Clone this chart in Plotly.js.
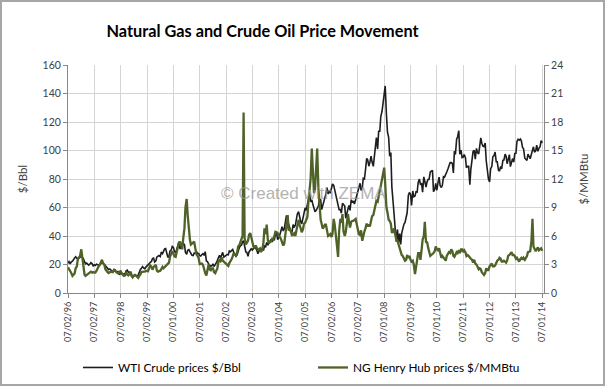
<!DOCTYPE html>
<html>
<head>
<meta charset="utf-8">
<script src="https://cdn.plot.ly/plotly-3.0.1.min.js"></script>
<style>
  html, body { margin: 0; padding: 0; background: #fff; }
  #wrap { position: relative; width: 605px; height: 386px; }
  #chart { width: 605px; height: 386px; }
  #frame { position: absolute; left: 0; top: 0; width: 605px; height: 386px; box-sizing: border-box; border: 2px solid #a6a6a6; pointer-events: none; }
</style>
</head>
<body>
<div id="wrap"><div id="chart"></div><div id="frame"></div></div>
<script>
// Semi-monthly readings (1st and 15th of each month), Jul 1996 .. Jul 2014
const wti = [
  20.9, 22.0, 20.5, 21.9, 22.3, 24.0, 24.6, 25.4, 24.0, 23.5, 24.5, 25.5,
  25.9, 25.0, 24.0, 22.0, 20.5, 21.0, 20.4, 19.6, 20.3, 21.3, 20.5, 19.0, 19.8, 19.3, 20.2, 19.8, 19.5, 19.9, 21.2, 21.5, 20.9, 20.2, 19.0, 18.3,
  17.6, 16.4, 16.9, 15.7, 15.4, 14.5, 16.2, 15.2, 15.2, 14.7, 14.9, 12.8, 14.2, 14.0, 13.5, 13.0, 13.8, 15.5, 16.0, 14.5, 14.6, 12.6, 11.6, 11.0,
  12.1, 12.6, 12.3, 11.8, 12.6, 15.0, 16.5, 17.4, 18.5, 17.6, 17.0, 18.2, 19.3, 20.3, 20.6, 21.5, 22.1, 24.2, 24.5, 21.7, 22.5, 25.3, 26.2, 26.3,
  25.6, 28.7, 27.6, 29.8, 31.0, 31.2, 26.6, 25.0, 25.8, 29.5, 30.1, 32.7, 32.0, 29.3, 28.1, 31.5, 33.4, 35.9, 30.8, 33.8, 33.0, 34.8, 34.0, 28.5,
  27.2, 30.0, 30.5, 29.0, 27.5, 26.5, 26.3, 28.0, 28.0, 29.2, 27.9, 27.8, 26.3, 26.0, 27.0, 27.6, 26.5, 29.0, 22.5, 22.0, 20.5, 18.0, 19.2, 19.0,
  20.5, 18.6, 19.9, 21.0, 22.5, 24.5, 26.5, 24.5, 27.3, 28.5, 25.2, 26.0, 26.8, 27.0, 26.8, 29.5, 29.0, 29.6, 30.5, 28.5, 27.0, 25.7, 26.8, 29.5,
  31.9, 33.0, 33.7, 36.0, 36.7, 33.0, 28.8, 28.5, 25.8, 28.8, 29.7, 31.0, 30.2, 31.7, 32.3, 31.5, 30.0, 27.6, 29.2, 31.0, 29.0, 31.8, 29.8, 33.0,
  32.5, 35.5, 33.5, 35.5, 36.5, 37.4, 35.8, 37.8, 37.5, 41.0, 42.0, 37.5, 39.0, 40.8, 43.8, 46.5, 43.5, 45.0, 50.0, 54.5, 50.5, 47.0, 45.5, 43.0,
  43.0, 48.0, 46.5, 47.5, 51.5, 55.5, 57.0, 52.0, 50.0, 48.5, 53.5, 56.5, 59.8, 58.0, 61.5, 66.0, 69.5, 64.0, 65.5, 62.5, 60.0, 57.0, 58.0, 59.5,
  61.0, 66.0, 65.5, 58.5, 61.0, 63.0, 66.5, 69.5, 74.0, 69.5, 72.0, 70.0, 73.5, 76.5, 75.5, 72.0, 69.0, 63.5, 62.0, 58.5, 58.5, 56.0, 63.0, 62.0,
  61.0, 52.5, 57.5, 59.0, 61.5, 58.0, 65.5, 63.5, 64.5, 62.5, 65.5, 68.0, 71.0, 74.0, 77.0, 72.0, 74.0, 80.5, 80.0, 86.0, 94.5, 93.5, 89.0, 91.5,
  96.0, 91.9, 88.9, 95.5, 102.5, 109.0, 101.0, 113.5, 113.5, 124.0, 127.5, 134.0, 141.0, 145.3, 125.0, 113.0, 109.0, 96.0, 98.5, 74.5, 64.0, 56.0, 46.0, 36.0,
  44.6, 35.4, 41.7, 34.0, 42.0, 46.3, 48.4, 49.4, 53.2, 56.3, 68.6, 70.5, 69.3, 61.5, 71.6, 67.5, 68.0, 71.0, 70.8, 77.6, 79.9, 76.4, 77.0, 70.7,
  81.5, 78.0, 74.4, 78.0, 79.7, 79.8, 84.9, 85.5, 86.1, 71.1, 72.6, 77.0, 72.1, 77.0, 81.3, 75.4, 74.0, 75.6, 81.6, 81.3, 82.9, 84.9, 87.0, 88.6,
  91.5, 91.5, 90.9, 84.3, 99.6, 97.2, 107.9, 109.7, 113.9, 97.4, 100.3, 95.0, 95.4, 97.2, 94.9, 87.9, 88.9, 88.9, 76.0, 86.8, 92.2, 99.4, 100.2, 93.9,
  101.5, 98.7, 97.6, 102.3, 108.8, 105.1, 103.0, 102.8, 105.3, 93.0, 83.2, 80.0, 78.0, 87.1, 88.9, 95.6, 96.5, 98.9, 92.1, 92.1, 86.2, 85.5, 88.9, 87.1,
  93.1, 93.3, 97.5, 95.9, 90.7, 93.5, 97.1, 88.7, 91.0, 94.3, 91.9, 97.9, 98.0, 106.3, 107.9, 107.3, 108.0, 106.6, 102.0, 101.2, 94.6, 93.8, 93.0, 97.5,
  95.4, 94.2, 97.5, 100.3, 102.6, 98.9, 99.7, 103.8, 99.4, 101.5, 102.7, 106.9, 105.3
];
const ng = [
  2.70, 2.55, 2.25, 2.10, 1.80, 1.95, 2.05, 2.60, 2.80, 3.60, 3.85, 3.90,
  4.60, 3.70, 2.60, 1.95, 1.80, 1.90, 1.95, 2.05, 2.15, 2.25, 2.15, 2.20, 2.15, 2.15, 2.35, 2.60, 2.85, 2.95, 3.20, 3.50, 3.10, 3.00, 2.50, 2.30,
  2.20, 2.10, 2.15, 2.25, 2.20, 2.25, 2.45, 2.40, 2.20, 2.10, 2.05, 2.25, 2.30, 2.05, 1.90, 1.80, 1.85, 2.10, 1.95, 1.85, 2.00, 2.25, 1.85, 1.65,
  1.85, 1.90, 1.80, 1.70, 1.60, 1.80, 1.95, 2.20, 2.25, 2.25, 2.25, 2.30, 2.35, 2.30, 2.65, 2.90, 2.75, 2.45, 2.75, 2.85, 2.95, 2.35, 2.25, 2.30,
  2.35, 2.50, 2.75, 2.60, 2.70, 2.85, 2.95, 3.05, 3.20, 3.80, 4.30, 4.40, 4.15, 3.85, 3.80, 4.50, 4.85, 5.25, 5.40, 5.05, 4.60, 5.80, 6.80, 9.00,
  9.90, 8.20, 6.20, 5.60, 5.10, 5.20, 5.30, 5.40, 4.70, 4.10, 3.90, 3.70, 3.05, 3.10, 3.10, 2.95, 2.30, 2.10, 1.85, 2.60, 3.00, 2.50, 2.40, 2.60,
  2.60, 2.20, 2.10, 2.35, 2.55, 3.20, 3.45, 3.35, 3.75, 3.40, 3.30, 3.20, 3.05, 2.95, 2.85, 3.15, 3.35, 3.55, 3.85, 4.20, 4.05, 3.95, 4.25, 4.90,
  5.05, 5.30, 5.60, 6.00, 19.0, 5.80, 5.10, 5.25, 5.50, 6.10, 6.30, 5.90, 5.20, 4.90, 4.80, 5.00, 4.75, 4.60, 4.60, 4.70, 4.40, 4.50, 5.30, 6.80,
  6.20, 7.20, 5.50, 5.30, 5.35, 5.45, 5.70, 5.65, 6.00, 6.45, 6.40, 6.30, 6.00, 5.90, 5.65, 5.30, 5.00, 5.20, 6.20, 7.00, 8.20, 6.60, 6.70, 6.50,
  6.00, 6.20, 6.30, 6.00, 6.60, 7.20, 7.70, 7.20, 6.80, 6.40, 6.70, 7.30, 7.40, 7.60, 8.00, 9.50, 11.50, 12.00, 15.20, 13.00, 10.50, 11.00, 13.00, 15.20,
  11.00, 8.80, 7.70, 7.30, 6.80, 6.90, 7.20, 7.20, 6.50, 6.00, 6.10, 6.20, 5.90, 6.20, 7.80, 7.20, 6.00, 4.60, 3.80, 6.50, 7.80, 7.40, 8.30, 6.50,
  6.00, 6.40, 7.50, 8.30, 7.50, 6.90, 7.50, 7.60, 7.60, 7.70, 7.80, 7.30, 6.70, 6.20, 6.10, 6.60, 5.50, 6.20, 6.50, 6.80, 7.30, 7.00, 7.20, 7.00,
  7.60, 8.10, 8.20, 8.60, 9.30, 9.70, 9.60, 10.40, 10.80, 11.30, 12.00, 12.70, 13.20, 11.50, 9.00, 8.50, 7.70, 7.60, 7.30, 6.40, 6.40, 6.80, 6.00, 5.60,
  5.50, 5.10, 4.80, 4.40, 4.00, 3.90, 3.60, 3.40, 3.50, 4.00, 3.70, 3.90, 3.50, 3.30, 3.40, 3.00, 2.00, 2.90, 3.80, 4.20, 4.20, 3.50, 4.50, 5.60,
  6.00, 7.50, 5.30, 5.40, 4.80, 4.20, 3.90, 4.00, 4.10, 4.20, 4.40, 4.90, 4.60, 4.50, 4.70, 4.30, 3.70, 3.90, 3.70, 3.50, 3.40, 3.90, 4.20, 4.30,
  4.20, 4.60, 4.40, 3.90, 3.80, 4.00, 4.30, 4.20, 4.50, 4.20, 4.60, 4.60, 4.30, 4.50, 4.30, 3.90, 4.00, 3.90, 3.70, 3.60, 3.50, 3.20, 3.50, 3.10,
  3.00, 2.70, 2.50, 2.60, 2.50, 2.20, 2.00, 1.90, 2.10, 2.60, 2.40, 2.40, 2.80, 3.00, 3.10, 2.80, 2.80, 2.90, 3.20, 3.40, 3.50, 3.70, 3.60, 3.30,
  3.30, 3.40, 3.30, 3.20, 3.40, 3.90, 4.00, 4.20, 4.30, 4.00, 4.00, 3.90, 3.60, 3.70, 3.40, 3.30, 3.60, 3.70, 3.50, 3.70, 3.50, 3.70, 3.90, 4.30,
  4.40, 4.40, 5.50, 7.80, 4.90, 4.60, 4.40, 4.60, 4.80, 4.50, 4.60, 4.70, 4.45
];
const tickDates = ['1996-07-02','1997-07-02','1998-07-02','1999-07-02','2000-07-01','2001-07-02','2002-07-02','2003-07-02','2004-07-01','2005-07-01','2006-07-02','2007-07-02','2008-07-01','2009-07-01','2010-07-01','2011-07-02','2012-07-01','2013-07-01','2014-07-01'];
const tickLabels = ['07/02/96','07/02/97','07/02/98','07/02/99','07/01/00','07/02/01','07/02/02','07/02/03','07/01/04','07/01/05','07/02/06','07/02/07','07/01/08','07/01/09','07/01/10','07/02/11','07/01/12','07/01/13','07/01/14'];
const seriesNames = ['WTI Crude prices $/Bbl', 'NG Henry Hub prices $/MMBtu'];

// x positions: 1st and 15th of each month starting July 1996
function pad(n) { return (n < 10 ? '0' : '') + n; }
const dates = [];
for (let i = 0; i < Math.max(wti.length, ng.length); i++) {
  const moff = Math.floor(i / 2);
  const y = 1996 + Math.floor((6 + moff) / 12);
  const m = (6 + moff) % 12 + 1;
  dates.push(y + '-' + pad(m) + '-' + (i % 2 ? '15' : '01'));
}

const baseFont = 'Lato, "Liberation Sans", sans-serif';
const tickFont = { family: baseFont, size: 10.5, color: '#404040' };

const traces = [
  { x: dates.slice(0, wti.length), y: wti, name: seriesNames[0], type: 'scatter', mode: 'lines',
    line: { color: '#1e1e1e', width: 1.6 }, yaxis: 'y' },
  { x: dates.slice(0, ng.length), y: ng, name: seriesNames[1], type: 'scatter', mode: 'lines',
    line: { color: '#4f6228', width: 2.3 }, yaxis: 'y2' }
];

const layout = {
  width: 605, height: 386,
  margin: { l: 68, r: 61, t: 65, b: 93 },
  paper_bgcolor: '#ffffff', plot_bgcolor: '#ffffff',
  font: { family: baseFont, color: '#404040' },
  title: { text: 'Natural Gas and Crude Oil Price Movement', x: 0.434, xanchor: 'center', xref: 'container',
           y: 0.92, yanchor: 'middle', yref: 'container',
           font: { family: baseFont, size: 16.3, color: '#000000', weight: 'bold' } },
  xaxis: {
    type: 'date', range: ['1996-07-01', '2014-07-25'],
    tickmode: 'array', tickvals: tickDates, ticktext: tickLabels, tickangle: -90,
    tickfont: { family: baseFont, size: 9.2, color: '#404040' }, ticks: 'outside', ticklen: 4, tickcolor: '#888888',
    showgrid: true, gridcolor: '#d4d4d4', gridwidth: 1,
    showline: true, linecolor: '#888888', linewidth: 1, zeroline: false, automargin: false
  },
  yaxis: {
    range: [0, 160], dtick: 20, tick0: 0, tickfont: tickFont,
    ticks: 'outside', ticklen: 4, tickcolor: '#888888',
    showgrid: true, gridcolor: '#d4d4d4', gridwidth: 1,
    showline: true, linecolor: '#888888', zeroline: false, automargin: false,
    title: { text: '$/Bbl', standoff: 12, font: { size: 11.5, color: '#404040' } }
  },
  yaxis2: {
    range: [0, 24], dtick: 3, tick0: 0, overlaying: 'y', side: 'right', tickfont: tickFont,
    ticks: 'outside', ticklen: 4, tickcolor: '#888888',
    showgrid: false, showline: true, linecolor: '#888888', zeroline: false, automargin: false,
    title: { text: '$/MMBtu', standoff: 17, font: { size: 11.5, color: '#404040' } }
  },
  showlegend: true,
  legend: { orientation: 'h', x: 0.021, xanchor: 'left', y: 0.048, yref: 'container', yanchor: 'middle',
            entrywidth: 190, entrywidthmode: 'pixels',
            font: { family: baseFont, size: 11.8, color: '#000000' },
            bgcolor: 'rgba(0,0,0,0)' },
  annotations: [
    { text: '© Created with ZEMA', xref: 'paper', yref: 'paper', x: 0.494, y: 0.437,
      xanchor: 'center', yanchor: 'middle', showarrow: false, opacity: 0.75,
      font: { family: '"Liberation Sans", Arial, sans-serif', size: 17, color: '#9a9a9a' } }
  ]
};

Plotly.newPlot('chart', traces, layout, { staticPlot: true, displayModeBar: false });
</script>
</body>
</html>
